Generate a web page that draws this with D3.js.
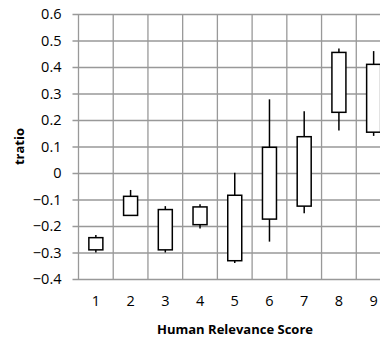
<!DOCTYPE html>
<html>
<head>
<meta charset="utf-8">
<script src="https://cdn.jsdelivr.net/npm/d3@7"></script>
<style>
  body { margin: 0; background: #fff; }
  text { font-family: "Open Sans", "Liberation Sans", sans-serif; fill: #000; }
</style>
</head>
<body>
<svg id="chart" width="380" height="337"></svg>
<script>
// human relevance score categories
const scores = ["1", "2", "3", "4", "5", "6", "7", "8", "9"];
// box ends (quartiles) and whisker ends
const boxTop = [-0.244, -0.088, -0.138, -0.128, -0.084, 0.097, 0.137, 0.455, 0.41];
const boxBottom = [-0.29, -0.16, -0.29, -0.195, -0.331, -0.174, -0.125, 0.229, 0.154];
const whiskerHigh = [-0.234, -0.064, -0.125, -0.118, 0.001, 0.278, 0.233, 0.47, 0.46];
const whiskerLow = [-0.30, -0.16, -0.30, -0.209, -0.34, -0.259, -0.152, 0.16, 0.14];
const yTicks = [-0.4, -0.3, -0.2, -0.1, 0, 0.1, 0.2, 0.3, 0.4, 0.5, 0.6];

const svg = d3.select("#chart");
const mLeft = 78.5, mTop = 14, plotW = 312.5, plotH = 265;

const x = d3.scaleBand().domain(scores).range([mLeft, mLeft + plotW]);
const y = d3.scaleLinear().domain([-0.4, 0.6]).range([mTop + plotH, mTop]);

const data = scores.map((s, i) => ({
  s, top: boxTop[i], bottom: boxBottom[i], hi: whiskerHigh[i], lo: whiskerLow[i]
}));

// horizontal gridlines with ticks sticking out to the left
svg.append("g")
  .attr("transform", `translate(${mLeft},0)`)
  .call(d3.axisLeft(y).tickValues(yTicks).tickSize(-plotW).tickSizeOuter(0)
    .tickFormat(d => d === 0 ? "0" : d3.format(".1f")(d)))
  .call(g => g.select(".domain").remove())
  .call(g => g.selectAll(".tick line").attr("stroke", "#999").attr("x1", -6).attr("stroke-width", 1.3))
  .call(g => g.selectAll(".tick text").attr("x", -17).attr("font-size", 14.5)
    .attr("font-family", "'Open Sans', sans-serif").attr("fill", "#000"));

// vertical gridlines at category boundaries
const bounds = scores.map(s => x(s)).concat([mLeft + plotW]);
svg.append("g").selectAll("line")
  .data(bounds)
  .join("line")
  .attr("x1", d => d).attr("x2", d => d)
  .attr("y1", mTop).attr("y2", mTop + plotH)
  .attr("stroke", "#999").attr("stroke-width", 1.3);

// x labels
svg.append("g")
  .attr("transform", `translate(0,${mTop + plotH})`)
  .call(d3.axisBottom(x).tickSize(0).tickPadding(17))
  .call(g => g.select(".domain").remove())
  .call(g => g.selectAll(".tick text").attr("font-size", 14.5)
    .attr("font-family", "'Open Sans', sans-serif").attr("fill", "#000"));

const bw = 14;
const cx = d => x(d.s) + x.bandwidth() / 2;

// whiskers
svg.append("g").selectAll("line")
  .data(data)
  .join("line")
  .attr("x1", cx).attr("x2", cx)
  .attr("y1", d => y(d.hi)).attr("y2", d => y(d.lo))
  .attr("stroke", "#000").attr("stroke-width", 1.5);

// boxes
svg.append("g").selectAll("rect")
  .data(data)
  .join("rect")
  .attr("x", d => cx(d) - bw / 2)
  .attr("width", bw)
  .attr("y", d => y(d.top))
  .attr("height", d => y(d.bottom) - y(d.top))
  .attr("fill", "#fff")
  .attr("stroke", "#000")
  .attr("stroke-width", 1.5);

// axis titles
svg.append("text")
  .attr("x", 235).attr("y", 334)
  .attr("text-anchor", "middle")
  .attr("font-size", 13).attr("font-weight", "bold")
  .text("Human Relevance Score");

svg.append("text")
  .attr("transform", `translate(24,${mTop + plotH / 2}) rotate(-90)`)
  .attr("text-anchor", "middle")
  .attr("font-size", 13).attr("font-weight", "bold")
  .text("tratio");
</script>
</body>
</html>
